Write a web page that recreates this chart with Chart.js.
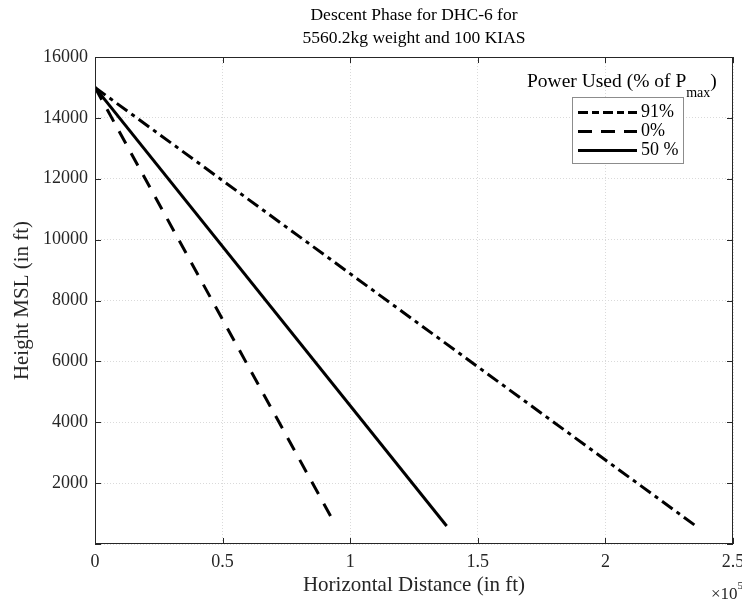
<!DOCTYPE html>
<html>
<head>
<meta charset="utf-8">
<script src="https://cdn.jsdelivr.net/npm/chart.js@4.4.1/dist/chart.umd.min.js"></script>
<style>
  html, body { margin: 0; padding: 0; background: #ffffff; }
  #wrap { width: 742px; height: 601px; }
</style>
</head>
<body>
<div id="wrap"><canvas id="c" width="742" height="601"></canvas></div>
<script>
// Descent profiles: horizontal distance (ft) vs. height MSL (ft)
const seriesLabels = ['91%', '0%', '50 %'];
const dist91 = [0, 236000];
const height91 = [15000, 560];
const dist0 = [0, 92500];
const height0 = [15000, 890];
const dist50 = [0, 137800];
const height50 = [15000, 590];

const xTickValues = [0, 50000, 100000, 150000, 200000, 250000];
const xTickLabels = ['0', '0.5', '1', '1.5', '2', '2.5'];
const yTickValues = [0, 2000, 4000, 6000, 8000, 10000, 12000, 14000, 16000];
const yTickLabels = ['', '2000', '4000', '6000', '8000', '10000', '12000', '14000', '16000'];

const titleLines = ['Descent Phase for DHC-6 for', '5560.2kg weight and 100 KIAS'];
const SERIF = '"Liberation Serif", "Times New Roman", serif';
const INK = '#262626';

const toPoints = (xs, ys) => xs.map((x, i) => ({ x: x, y: ys[i] }));

const lineStyle = {
  borderColor: '#000000',
  borderWidth: 3,
  pointRadius: 0,
  fill: false,
  tension: 0,
  borderCapStyle: 'butt'
};

const data = {
  datasets: [
    Object.assign({ label: seriesLabels[0], data: toPoints(dist91, height91), borderDash: [13, 5, 4, 5] }, lineStyle),
    Object.assign({ label: seriesLabels[1], data: toPoints(dist0, height0), borderDash: [14, 11] }, lineStyle),
    Object.assign({ label: seriesLabels[2], data: toPoints(dist50, height50), borderDash: [] }, lineStyle)
  ]
};

// Axes box, inward tick marks, title, exponent note and legend
const decorations = {
  id: 'decorations',
  afterDraw(chart) {
    const ctx = chart.ctx;
    const a = chart.chartArea;
    const xs = chart.scales.x, ys = chart.scales.y;
    ctx.save();

    // box
    ctx.strokeStyle = INK;
    ctx.lineWidth = 1;
    ctx.strokeRect(Math.round(a.left) + 0.5, Math.round(a.top) + 0.5,
                   Math.round(a.right - a.left) - 1, Math.round(a.bottom - a.top) - 1);

    // inward ticks
    const tl = 6;
    ctx.beginPath();
    xTickValues.forEach(v => {
      const px = Math.round(xs.getPixelForValue(v)) + 0.5;
      ctx.moveTo(px, a.bottom); ctx.lineTo(px, a.bottom - tl);
      ctx.moveTo(px, a.top); ctx.lineTo(px, a.top + tl);
    });
    yTickValues.forEach(v => {
      const py = Math.round(ys.getPixelForValue(v)) + 0.5;
      ctx.moveTo(a.left, py); ctx.lineTo(a.left + tl, py);
      ctx.moveTo(a.right, py); ctx.lineTo(a.right - tl, py);
    });
    ctx.stroke();

    // title
    const cx = (a.left + a.right) / 2;
    ctx.fillStyle = '#000000';
    ctx.font = '17.5px ' + SERIF;
    ctx.textAlign = 'center';
    ctx.textBaseline = 'middle';
    ctx.fillText(titleLines[0], cx, 15);
    ctx.fillText(titleLines[1], cx, 38);

    // exponent note on x axis
    ctx.fillStyle = INK;
    ctx.textAlign = 'left';
    ctx.textBaseline = 'alphabetic';
    ctx.font = '17px ' + SERIF;
    ctx.fillText('\u00d710', 711, 599);
    const ew = ctx.measureText('\u00d710').width;
    ctx.font = '11px ' + SERIF;
    ctx.fillText('5', 711 + ew, 589);

    // legend
    const bx = 572, by = 97, bw = 111, bh = 66;
    ctx.fillStyle = '#ffffff';
    ctx.fillRect(bx, by, bw, bh);
    ctx.strokeStyle = '#8c8c8c';
    ctx.lineWidth = 1;
    ctx.strokeRect(bx + 0.5, by + 0.5, bw, bh);

    ctx.fillStyle = '#000000';
    ctx.font = '19.5px ' + SERIF;
    ctx.textBaseline = 'middle';
    const head = 'Power Used (% of P';
    ctx.fillText(head, 527, 82);
    const hw = ctx.measureText(head).width;
    ctx.font = '14px ' + SERIF;
    ctx.fillText('max', 527 + hw, 93);
    const mw = ctx.measureText('max').width;
    ctx.font = '19.5px ' + SERIF;
    ctx.fillText(')', 527 + hw + mw, 82);

    const rowY = [112, 131, 150];
    chart.data.datasets.forEach((ds, i) => {
      const y = rowY[i] + 0.5;
      ctx.strokeStyle = ds.borderColor;
      ctx.lineWidth = ds.borderWidth;
      ctx.lineCap = 'butt';
      ctx.setLineDash(i === 1 ? [14, 9] : (i === 0 ? [10, 4, 7, 4] : []));
      ctx.beginPath();
      ctx.moveTo(578, y);
      ctx.lineTo(637, y);
      ctx.stroke();
      ctx.setLineDash([]);
      ctx.fillStyle = '#000000';
      ctx.font = '18px ' + SERIF;
      ctx.textAlign = 'left';
      ctx.fillText(ds.label, 641, rowY[i]);
    });

    ctx.restore();
  }
};

new Chart(document.getElementById('c'), {
  type: 'line',
  data: data,
  options: {
    responsive: false,
    animation: false,
    layout: { padding: { top: 57, right: 9, left: 0, bottom: 0 } },
    plugins: { legend: { display: false }, tooltip: { enabled: false } },
    scales: {
      x: {
        type: 'linear',
        min: 0,
        max: 250000,
        afterBuildTicks: s => { s.ticks = xTickValues.map(v => ({ value: v })); },
        afterFit: s => { s.height = 57; s.paddingLeft = 0; s.paddingRight = 0; },
        ticks: {
          color: INK,
          font: { family: SERIF, size: 18 },
          padding: 7,
          maxRotation: 0,
          callback: (v) => xTickLabels[xTickValues.indexOf(v)]
        },
        grid: { color: '#dadada', lineWidth: 1, drawTicks: false },
        border: { display: false, dash: [1, 2] },
        title: {
          display: true,
          text: 'Horizontal Distance (in ft)',
          color: INK,
          font: { family: SERIF, size: 21 },
          padding: { top: 0, bottom: 3 }
        }
      },
      y: {
        type: 'linear',
        min: 0,
        max: 16000,
        afterBuildTicks: s => { s.ticks = yTickValues.map(v => ({ value: v })); },
        afterFit: s => { s.width = 95; s.paddingTop = 0; s.paddingBottom = 0; },
        ticks: {
          color: INK,
          font: { family: SERIF, size: 18 },
          padding: 7,
          callback: (v) => yTickLabels[yTickValues.indexOf(v)]
        },
        grid: { color: '#dadada', lineWidth: 1, drawTicks: false },
        border: { display: false, dash: [1, 2] },
        title: {
          display: true,
          text: 'Height MSL (in ft)',
          color: INK,
          font: { family: SERIF, size: 21 },
          padding: { top: 10, bottom: 0 }
        }
      }
    }
  },
  plugins: [decorations]
});
</script>
</body>
</html>
